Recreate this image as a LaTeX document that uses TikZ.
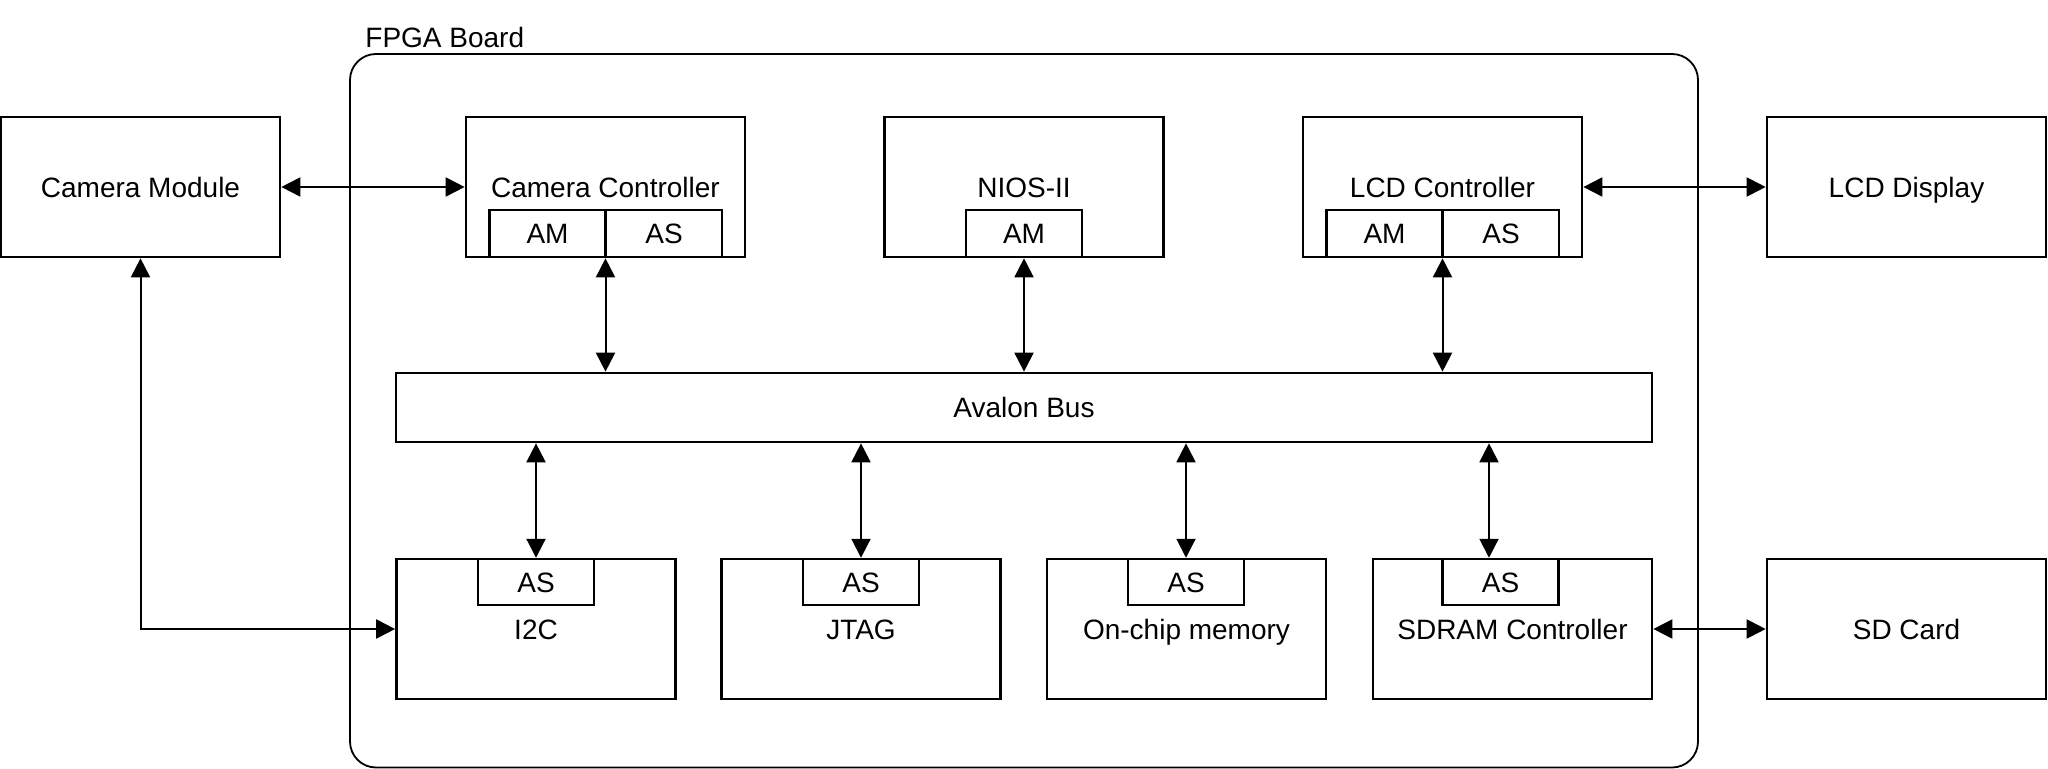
\documentclass[tikz,border=0pt]{standalone}
\usepackage{fontspec}
\setmainfont{Liberation Sans}
\usetikzlibrary{arrows.meta}
\begin{document}
\begin{tikzpicture}[x=0.5pt,y=-0.5pt,
  every node/.style={font=\fontsize{14}{16}\selectfont, text height=12pt, text depth=1.5pt},
  blk/.style={draw, line width=1.35pt, minimum width=139.5pt, minimum height=70pt, inner sep=0pt},
  sub/.style={draw, fill=white, line width=1.2pt, minimum width=58pt, minimum height=23.5pt, inner sep=0pt},
  conn/.style={line width=1pt, {Triangle[length=9.5pt,width=9.5pt]}-{Triangle[length=9.5pt,width=9.5pt]}},
  board/.style={draw, line width=0.9pt, rounded corners=13pt}]
\useasboundingbox (0,0) rectangle (2048,769);

% board
\draw[board] (350,54) rectangle (1698,767.5);
\node[anchor=west, inner sep=0pt] (boardlbl) at (365,37) {FPGA Board};

% top row
\node[blk] (cam) at (140.5,187) {Camera Module};
\node[blk] (camctl) at (605.5,187) {Camera Controller};
\node[blk] (nios) at (1024,187) {NIOS-II};
\node[blk] (lcdctl) at (1442.5,187) {LCD Controller};
\node[blk] (lcd) at (1906.5,187) {LCD Display};

\node[sub] (camam) at (547.5,233.5) {AM};
\node[sub] (camas) at (664,233.5) {AS};
\node[sub] (niosam) at (1024,233.5) {AM};
\node[sub] (lcdam) at (1384.5,233.5) {AM};
\node[sub] (lcdas) at (1501,233.5) {AS};

% bus
\node[draw, line width=1.35pt, minimum width=628pt, minimum height=34.5pt, inner sep=0pt] (bus) at (1024,407.5) {Avalon Bus};

% bottom row
\node[blk] (i2c) at (536,629) {I2C};
\node[blk] (jtag) at (861,629) {JTAG};
\node[blk] (onchip) at (1186.5,629) {On-chip memory};
\node[blk] (sdram) at (1512.5,629) {SDRAM Controller};
\node[blk] (sd) at (1906.5,629) {SD Card};

\node[sub, minimum height=23pt] (i2cas) at (536,582) {AS};
\node[sub, minimum height=23pt] (jtagas) at (861,582) {AS};
\node[sub, minimum height=23pt] (onchipas) at (1186,582) {AS};
\node[sub, minimum height=23pt] (sdramas) at (1500.5,582) {AS};

% connectors
\draw[conn] (cam.east) -- (camctl.west);
\draw[conn] (lcdctl.east) -- (lcd.west);
\draw[conn] (sdram.east) -- (sd.west);
\draw[conn] (cam.south) |- (i2c.west);

\draw[conn] (camctl.south) -- (camctl.south |- bus.north);
\draw[conn] (nios.south) -- (nios.south |- bus.north);
\draw[conn] (lcdctl.south) -- (lcdctl.south |- bus.north);

\draw[conn] (bus.south -| i2cas.north) -- (i2cas.north);
\draw[conn] (bus.south -| jtagas.north) -- (jtagas.north);
\draw[conn] (bus.south -| onchipas.north) -- (onchipas.north);
\draw[conn] ([xshift=-5.75pt]sdramas.north |- bus.south) -- ([xshift=-5.75pt]sdramas.north);
\end{tikzpicture}
\end{document}
